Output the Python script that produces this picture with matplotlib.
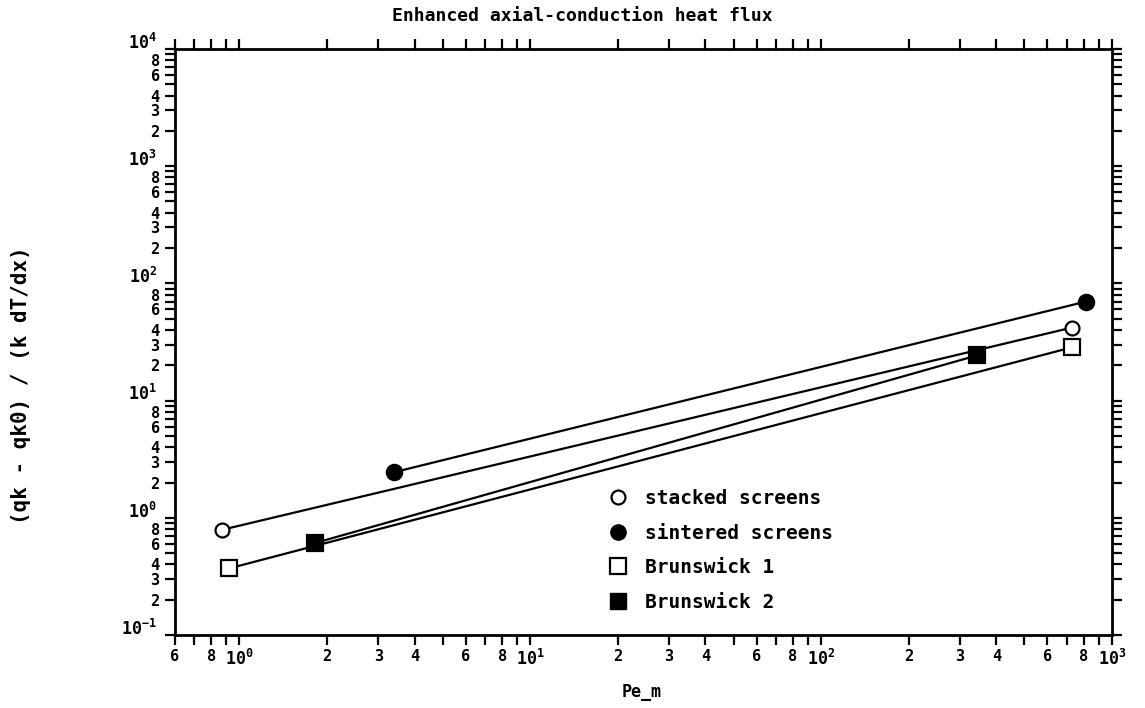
import numpy as np
import matplotlib
matplotlib.use('Agg')
import matplotlib.pyplot as plt
import matplotlib.transforms as mtransforms
from matplotlib.ticker import LogLocator, FuncFormatter
from matplotlib.lines import Line2D

# Pe_m and normalised heat flux for each matrix type (end points of fitted lines)
stacked_x = [0.87, 730]
stacked_y = [0.79, 42]
sintered_x = [3.4, 815]
sintered_y = [2.45, 70]
brunswick1_x = [0.92, 730]
brunswick1_y = [0.37, 28.5]
brunswick2_x = [1.82, 344]
brunswick2_y = [0.61, 24.3]

labels = ['stacked screens', 'sintered screens', 'Brunswick 1', 'Brunswick 2']

plt.rcParams['font.family'] = 'DejaVu Sans Mono'
plt.rcParams['font.weight'] = 'bold'
plt.rcParams['mathtext.fontset'] = 'custom'
plt.rcParams['mathtext.rm'] = 'DejaVu Sans Mono:bold'
plt.rcParams['mathtext.it'] = 'DejaVu Sans Mono:bold'
plt.rcParams['mathtext.bf'] = 'DejaVu Sans Mono:bold'

fig = plt.figure(figsize=(11.45, 7.08), dpi=100)
ax = fig.add_axes([0.1528, 0.103, 0.8184, 0.828])

series = [
    (stacked_x, stacked_y, 'o', 'white', 10),
    (sintered_x, sintered_y, 'o', 'black', 11),
    (brunswick1_x, brunswick1_y, 's', 'white', 11),
    (brunswick2_x, brunswick2_y, 's', 'black', 11),
]
for xs, ys, m, fc, ms in series:
    ax.plot(xs, ys, color='black', lw=1.6, zorder=2)
    ax.plot(xs, ys, ls='none', marker=m, ms=ms, mfc=fc, mec='black',
            mew=1.6, zorder=3)

ax.set_xscale('log')
ax.set_yscale('log')
ax.set_xlim(0.6, 1000)
ax.set_ylim(0.1, 10000)


def log_label(v, pos):
    exp = int(np.floor(np.log10(v) + 1e-9))
    mant = int(round(v / 10 ** exp))
    if mant == 1:
        return r'$\mathrm{10^{%d}}$' % exp
    if mant in (2, 3, 4, 6, 8):
        return str(mant)
    return ''


for axis in (ax.xaxis, ax.yaxis):
    axis.set_major_locator(LogLocator(base=10, subs=(1.0,), numticks=20))
    axis.set_minor_locator(LogLocator(base=10, subs=np.arange(2, 10), numticks=20))
    axis.set_major_formatter(FuncFormatter(log_label))
    axis.set_minor_formatter(FuncFormatter(log_label))

ax.tick_params(which='both', direction='out', top=True, right=True,
               length=7, width=1.6, labelsize=11)
ax.tick_params(which='major', labelsize=12)
ax.tick_params(axis='x', which='both', pad=3)
ax.tick_params(axis='y', which='major', pad=6)
ax.tick_params(axis='y', which='minor', pad=4)
for sp in ax.spines.values():
    sp.set_linewidth(2)

# decade labels on the y axis sit a little above their tick
lift = mtransforms.ScaledTranslation(0, 6 / 72, fig.dpi_scale_trans)
for lbl in ax.yaxis.get_majorticklabels():
    lbl.set_transform(lbl.get_transform() + lift)

handles = [
    Line2D([], [], ls='none', marker='o', ms=10, mfc='white', mec='black', mew=1.6),
    Line2D([], [], ls='none', marker='o', ms=11, mfc='black', mec='black'),
    Line2D([], [], ls='none', marker='s', ms=11, mfc='white', mec='black', mew=1.6),
    Line2D([], [], ls='none', marker='s', ms=11, mfc='black', mec='black'),
]
ax.legend(handles, labels, loc='upper left', bbox_to_anchor=(0.444, 0.279),
          frameon=False, prop={'size': 14, 'weight': 'bold'},
          handlelength=1.0, handletextpad=0.9, labelspacing=0.8)

fig.text(0.509, 0.978, 'Enhanced axial-conduction heat flux',
         ha='center', va='center', fontsize=13, fontweight='bold')
fig.text(0.56, 0.023, 'Pe_m', ha='center', va='center',
         fontsize=12, fontweight='bold')
fig.text(0.018, 0.456, '(qk - qk0) / (k dT/dx)', rotation=90,
         ha='center', va='center', fontsize=15, fontweight='bold')

fig.savefig('out.png', dpi=100, facecolor='white')
